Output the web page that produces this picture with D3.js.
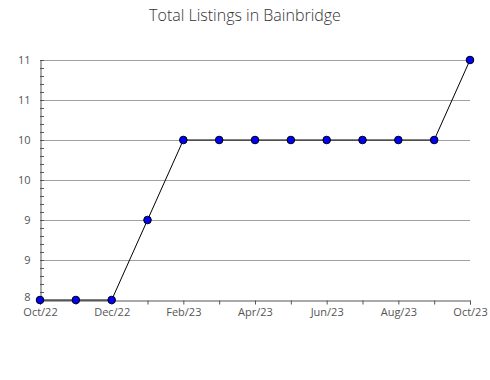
<!DOCTYPE html>
<html><head><meta charset="utf-8">
<script src="https://cdn.jsdelivr.net/npm/d3@7"></script>
<style>body{margin:0;background:#fff}</style>
</head><body><svg id="c" width="490" height="380"></svg>
<script>
const months = ["Oct/22","Nov/22","Dec/22","Jan/23","Feb/23","Mar/23","Apr/23","May/23","Jun/23","Jul/23","Aug/23","Sep/23","Oct/23"];
const listings = [8,8,8,9,10,10,10,10,10,10,10,10,11];
const xLabels = ["Oct/22","Dec/22","Feb/23","Apr/23","Jun/23","Aug/23","Oct/23"];
const yTicks = [8,8.5,9,9.5,10,10.5,11];
const title = "Total Listings in Bainbridge";

const svg = d3.select("#c");
const L=40,R=470,T=60,B=300;
const font="'Open Sans', 'Noto Sans', sans-serif";
const x = d3.scalePoint().domain(months).range([L,R]);
const y = d3.scaleLinear().domain([8,11]).range([B,T]);

svg.append("text").attr("x",245).attr("y",21).attr("text-anchor","middle")
  .attr("font-family",font).attr("font-size",16).attr("font-weight",300).attr("fill","#333").text(title);

// grid
svg.append("g").selectAll("line").data(yTicks.slice(1)).join("line")
  .attr("x1",L).attr("x2",R).attr("y1",d=>y(d)+0.5).attr("y2",d=>y(d)+0.5)
  .attr("stroke","#a0a0a0").attr("stroke-width",1);

// y axis
const ya = svg.append("g").attr("transform",`translate(${L+0.5},0)`)
  .call(d3.axisLeft(y).tickValues(yTicks).tickSize(0).tickPadding(10).tickFormat(d=>d3.format(".0f")(Math.round(d))));
ya.select(".domain").attr("stroke","#555");
ya.selectAll("text").attr("font-family",font).attr("font-size",11).attr("fill","#555");
ya.selectAll(".tick").filter(d=>d===8).select("text").attr("dy","0.05em");
// minor ticks
const minor = d3.range(80,111).map(v=>v/10);
svg.append("g").selectAll("line").data(minor).join("line")
  .attr("x1",L).attr("x2",L+4).attr("y1",d=>Math.round(y(d))+0.5).attr("y2",d=>Math.round(y(d))+0.5)
  .attr("stroke","#555");

// x axis
const xa = svg.append("g").attr("transform",`translate(0,${B+0.5})`)
  .call(d3.axisBottom(x).tickSize(4).tickPadding(4).tickFormat(d=>xLabels.includes(d)?d:""));
xa.select(".domain").attr("stroke","#555");
xa.selectAll(".tick line").attr("stroke","#555");
xa.selectAll("text").attr("font-family",font).attr("font-size",11).attr("fill","#555");

// line
svg.append("path").datum(listings)
  .attr("d",d3.line().x((d,i)=>x(months[i])).y(d=>y(d)))
  .attr("fill","none").attr("stroke","#000").attr("stroke-width",1);
svg.append("g").selectAll("circle").data(listings).join("circle")
  .attr("cx",(d,i)=>x(months[i])).attr("cy",d=>y(d)).attr("r",3.8)
  .attr("fill","#0000ff").attr("stroke","#000").attr("stroke-width",1);
</script></body></html>
